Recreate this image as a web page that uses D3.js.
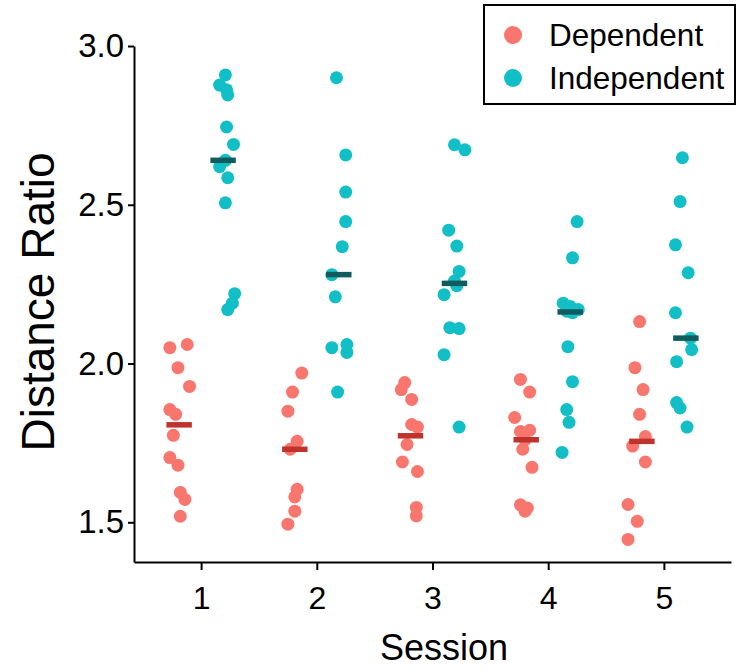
<!DOCTYPE html>
<html>
<head>
<meta charset="utf-8">
<script src="https://cdn.jsdelivr.net/npm/d3@7"></script>
<style>
  body { margin: 0; background: #fff; }
  svg text { font-family: "Liberation Sans", Arial, sans-serif; fill: #000; }
</style>
</head>
<body>
<div id="chart"></div>
<script>
  const sessions = [1, 2, 3, 4, 5];
  const groups = ['Dependent', 'Independent'];

  // distance ratios per session
  const dependentValues = [
    [2.05, 2.06, 1.987, 1.928, 1.855, 1.84, 1.774, 1.704, 1.68, 1.594, 1.572, 1.519],
    [1.97, 1.91, 1.85, 1.755, 1.73, 1.604, 1.58, 1.535, 1.494],
    [1.94, 1.918, 1.887, 1.808, 1.80, 1.745, 1.69, 1.66, 1.547, 1.52],
    [1.95, 1.91, 1.83, 1.79, 1.786, 1.76, 1.73, 1.673, 1.555, 1.545, 1.535],
    [2.132, 1.987, 1.918, 1.84, 1.77, 1.74, 1.69, 1.556, 1.503, 1.446]
  ];
  const independentValues = [
    [2.909, 2.877, 2.862, 2.846, 2.745, 2.69, 2.64, 2.62, 2.585, 2.506, 2.22, 2.19, 2.17],
    [2.90, 2.657, 2.54, 2.447, 2.368, 2.28, 2.21, 2.06, 2.05, 2.035, 1.91],
    [2.689, 2.673, 2.42, 2.37, 2.29, 2.26, 2.245, 2.217, 2.113, 2.11, 2.028, 1.80],
    [2.447, 2.333, 2.19, 2.18, 2.17, 2.165, 2.16, 2.053, 1.943, 1.855, 1.815, 1.72],
    [2.648, 2.51, 2.374, 2.286, 2.16, 2.08, 2.044, 2.006, 1.877, 1.86, 1.80]
  ];
  // horizontal jitter of each point, in session units
  const dependentJitter = [
    [-0.27, -0.12, -0.20, -0.10, -0.27, -0.22, -0.24, -0.27, -0.20, -0.18, -0.14, -0.18],
    [-0.13, -0.21, -0.25, -0.17, -0.23, -0.17, -0.19, -0.19, -0.25],
    [-0.24, -0.27, -0.18, -0.18, -0.13, -0.22, -0.26, -0.13, -0.14, -0.14],
    [-0.24, -0.16, -0.29, -0.16, -0.24, -0.20, -0.22, -0.14, -0.24, -0.18, -0.20],
    [-0.21, -0.25, -0.18, -0.21, -0.16, -0.27, -0.16, -0.31, -0.23, -0.31]
  ];
  const independentJitter = [
    [0.21, 0.16, 0.22, 0.23, 0.22, 0.28, 0.21, 0.16, 0.23, 0.21, 0.29, 0.27, 0.23],
    [0.17, 0.25, 0.25, 0.25, 0.22, 0.13, 0.16, 0.26, 0.13, 0.26, 0.18],
    [0.19, 0.28, 0.14, 0.21, 0.23, 0.19, 0.21, 0.10, 0.15, 0.23, 0.10, 0.23],
    [0.25, 0.21, 0.13, 0.19, 0.26, 0.16, 0.21, 0.17, 0.21, 0.16, 0.18, 0.12],
    [0.16, 0.14, 0.10, 0.21, 0.10, 0.23, 0.24, 0.11, 0.11, 0.14, 0.20]
  ];
  const yTicks = [1.5, 2.0, 2.5, 3.0];

  const w = 748;
  const h = 671;
  const colors = { Dependent: '#f8766d', Independent: '#13bfc6' };
  const medianColors = { Dependent: '#c0322c', Independent: '#0f5b5d' };
  const dodge = { Dependent: -0.19, Independent: 0.19 };

  const xScale = d3.scaleLinear().domain([0.42, 5.58]).range([134, 731]);
  const yScale = d3.scaleLinear().domain([1.375, 3.0]).range([562, 46]);

  const svg = d3.select('#chart')
    .append('svg')
    .attr('width', w)
    .attr('height', h);

  // points
  const points = [];
  sessions.forEach((s, i) => {
    dependentValues[i].forEach((v, j) => points.push({ group: 'Dependent', x: s + dependentJitter[i][j], v: v }));
    independentValues[i].forEach((v, j) => points.push({ group: 'Independent', x: s + independentJitter[i][j], v: v }));
  });

  svg.append('g')
    .selectAll('circle')
    .data(points)
    .join('circle')
    .attr('cx', d => xScale(d.x))
    .attr('cy', d => yScale(d.v))
    .attr('r', 6.5)
    .attr('fill', d => colors[d.group]);

  // medians
  const medians = [];
  sessions.forEach((s, i) => {
    medians.push({ group: 'Dependent', s: s, m: d3.median(dependentValues[i]) });
    medians.push({ group: 'Independent', s: s, m: d3.median(independentValues[i]) });
  });

  svg.append('g')
    .selectAll('line')
    .data(medians)
    .join('line')
    .attr('x1', d => xScale(d.s + dodge[d.group] - 0.11))
    .attr('x2', d => xScale(d.s + dodge[d.group] + 0.11))
    .attr('y1', d => yScale(d.m))
    .attr('y2', d => yScale(d.m))
    .attr('stroke', d => medianColors[d.group])
    .attr('stroke-width', 5.5);

  // axes
  const xAxis = d3.axisBottom(xScale).tickValues(sessions).tickFormat(d3.format('d'))
    .tickSizeOuter(0).tickSizeInner(8).tickPadding(16);
  const gx = svg.append('g')
    .attr('transform', 'translate(0,' + 562 + ')')
    .call(xAxis);
  gx.select('.domain').attr('stroke', '#000').attr('stroke-width', 2);
  gx.selectAll('.tick line').attr('stroke', '#000').attr('stroke-width', 2);
  gx.selectAll('.tick text').attr('font-size', 32).attr('font-family', '"Liberation Sans", Arial, sans-serif');

  const yAxis = d3.axisLeft(yScale).tickValues(yTicks).tickFormat(d3.format('.1f'))
    .tickSizeOuter(0).tickSizeInner(6).tickPadding(4);
  const gy = svg.append('g')
    .attr('transform', 'translate(' + 134 + ',0)')
    .call(yAxis);
  gy.select('.domain').attr('stroke', '#000').attr('stroke-width', 2);
  gy.selectAll('.tick line').attr('stroke', '#000').attr('stroke-width', 2);
  gy.selectAll('.tick text').attr('font-size', 33).attr('font-family', '"Liberation Sans", Arial, sans-serif');

  // axis titles
  svg.append('text')
    .attr('x', 444)
    .attr('y', 660)
    .attr('text-anchor', 'middle')
    .attr('font-size', 36)
    .text('Session');

  svg.append('text')
    .attr('transform', 'translate(54,302) rotate(-90)')
    .attr('text-anchor', 'middle')
    .attr('font-size', 46)
    .text('Distance Ratio');

  // legend
  const legend = svg.append('g');
  legend.append('rect')
    .attr('x', 484).attr('y', 5)
    .attr('width', 251).attr('height', 99)
    .attr('fill', '#fff')
    .attr('stroke', '#000')
    .attr('stroke-width', 2);
  const items = legend.selectAll('g.item')
    .data(groups)
    .join('g')
    .attr('class', 'item')
    .attr('transform', (d, i) => 'translate(0,' + (35 + i * 43) + ')');
  items.append('circle')
    .attr('cx', 513).attr('cy', 0).attr('r', 9)
    .attr('fill', d => colors[d]);
  items.append('text')
    .attr('x', 549).attr('y', 0)
    .attr('dy', '0.35em')
    .attr('font-size', 31.5)
    .text(d => d);
</script>
</body>
</html>
